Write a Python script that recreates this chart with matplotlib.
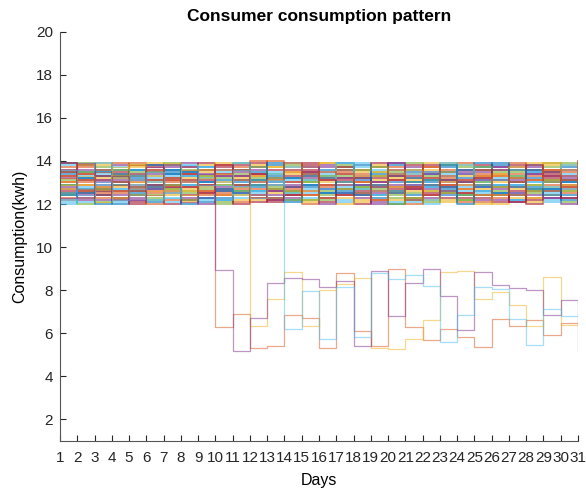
import numpy as np
import matplotlib
matplotlib.use("Agg")
import matplotlib.pyplot as plt

plt.rcParams['font.family'] = ['Liberation Sans', 'DejaVu Sans']

days = list(range(1, 32))

# normal consumers, kwh per day (all between 12 and 14)
normal = [
    [13.9, 13.2, 12.4, 13.6, 12.8, 12.1, 13.5, 12.9, 13.7, 12.3, 13.1, 12.6, 13.8, 12.2, 13.4, 12.7, 13.9, 12.5, 13.3, 12.0, 13.6, 12.8, 13.1, 12.4, 13.7, 12.9, 12.2, 13.5, 12.6, 13.0, 12.8],
    [12.3, 13.7, 13.1, 12.5, 13.9, 12.8, 12.2, 13.4, 12.6, 13.8, 12.1, 13.3, 12.7, 13.5, 12.0, 13.2, 12.4, 13.6, 12.9, 13.1, 12.3, 13.7, 12.5, 13.9, 12.1, 13.4, 12.8, 12.3, 13.6, 12.7, 13.2],
    [13.0, 12.6, 13.8, 12.2, 13.3, 13.9, 12.7, 12.1, 13.5, 12.9, 13.6, 12.4, 13.1, 12.8, 13.7, 12.3, 13.0, 12.1, 13.8, 12.6, 13.4, 12.2, 13.9, 12.7, 13.3, 12.0, 13.6, 12.9, 12.4, 13.8, 12.5],
    [12.7, 12.2, 12.9, 13.8, 12.4, 13.5, 13.1, 13.9, 12.3, 13.4, 12.8, 13.7, 12.2, 13.0, 12.6, 13.8, 12.5, 13.3, 12.1, 13.9, 12.7, 13.2, 12.4, 13.5, 12.8, 13.7, 12.1, 13.4, 13.0, 12.3, 13.6],
    [13.5, 13.9, 12.1, 13.0, 12.6, 12.4, 13.8, 12.6, 13.2, 12.0, 13.9, 12.9, 13.4, 12.5, 13.1, 12.2, 13.7, 12.8, 13.5, 12.3, 13.0, 12.6, 13.8, 12.2, 13.6, 12.4, 13.2, 12.7, 13.9, 12.1, 13.3],
    [12.1, 12.8, 13.5, 12.7, 13.6, 13.2, 12.3, 13.0, 12.8, 13.6, 12.4, 13.0, 12.9, 13.9, 12.3, 13.5, 12.1, 13.7, 12.6, 13.4, 12.9, 12.0, 13.3, 12.8, 13.0, 13.6, 12.5, 13.8, 12.2, 13.4, 12.9],
    [13.3, 12.5, 12.7, 13.3, 12.1, 13.7, 12.9, 12.4, 13.9, 12.6, 13.3, 12.1, 13.6, 12.4, 13.8, 12.9, 13.2, 12.4, 13.0, 12.7, 13.8, 12.5, 12.9, 13.6, 12.3, 13.1, 13.8, 12.0, 13.4, 12.9, 12.6],
    [12.9, 13.5, 13.3, 12.0, 13.2, 12.9, 13.6, 13.3, 12.1, 13.1, 12.6, 13.5, 12.3, 13.2, 12.9, 12.5, 13.6, 12.9, 12.3, 13.8, 12.2, 13.4, 12.7, 13.0, 13.9, 12.5, 12.9, 13.2, 12.7, 13.7, 12.1],
    [13.7, 12.9, 12.3, 13.4, 12.9, 12.6, 12.5, 13.7, 12.9, 12.5, 13.7, 12.7, 14.0, 12.6, 13.3, 13.1, 12.7, 13.4, 13.7, 12.5, 13.2, 12.9, 13.6, 12.1, 13.2, 12.8, 13.4, 12.6, 13.1, 12.5, 13.8],
    [12.5, 13.1, 13.9, 12.9, 13.4, 13.0, 13.2, 12.7, 13.3, 13.9, 12.2, 13.8, 12.5, 13.7, 12.2, 13.9, 12.9, 12.2, 13.1, 13.2, 12.6, 13.9, 12.2, 13.3, 12.7, 13.3, 12.3, 13.9, 12.8, 13.3, 12.4],
    [13.2, 12.4, 13.0, 13.1, 12.3, 13.4, 12.6, 13.1, 12.5, 12.8, 13.5, 12.3, 13.2, 12.9, 13.5, 12.7, 13.4, 13.1, 12.5, 13.0, 13.5, 12.3, 13.0, 12.9, 13.5, 12.2, 13.7, 12.4, 13.3, 12.0, 13.5],
    [12.4, 13.8, 12.6, 12.3, 13.8, 12.2, 13.9, 12.5, 13.6, 13.2, 12.9, 13.1, 12.7, 12.2, 13.0, 12.4, 13.8, 12.7, 13.3, 12.4, 13.9, 13.1, 12.5, 13.7, 12.4, 13.5, 13.0, 12.5, 13.7, 13.1, 12.7],
    [13.8, 12.1, 13.4, 13.7, 12.7, 13.3, 12.1, 13.8, 12.2, 13.5, 12.3, 12.6, 13.4, 13.1, 12.5, 13.3, 12.2, 13.9, 12.8, 13.6, 12.1, 12.8, 13.4, 12.6, 13.1, 12.9, 13.3, 13.0, 12.1, 13.6, 13.0],
    [12.6, 13.4, 12.8, 12.6, 13.1, 13.8, 12.8, 12.2, 13.1, 12.7, 13.8, 13.4, 12.1, 13.6, 13.6, 12.1, 13.1, 12.6, 13.9, 12.8, 13.3, 13.5, 12.8, 12.3, 13.8, 13.1, 12.6, 13.6, 13.2, 12.8, 14.0],
    [13.4, 12.7, 13.6, 13.2, 12.5, 12.7, 13.4, 13.5, 13.0, 12.2, 13.0, 12.8, 13.3, 12.8, 12.8, 13.6, 12.6, 13.2, 12.4, 13.3, 12.4, 13.0, 13.7, 13.2, 12.6, 13.8, 12.4, 12.8, 13.5, 12.2, 13.1],
    [12.2, 13.0, 12.5, 13.9, 13.0, 12.5, 13.0, 12.8, 12.4, 13.6, 12.7, 14.0, 12.9, 12.7, 13.4, 12.8, 13.5, 13.0, 12.2, 13.7, 12.8, 12.4, 13.2, 12.5, 13.4, 12.3, 13.9, 13.3, 12.9, 13.5, 12.3],
    [13.6, 12.3, 13.2, 12.8, 13.7, 13.1, 12.4, 13.2, 13.8, 12.4, 13.2, 12.2, 13.7, 13.4, 12.1, 13.0, 12.3, 13.5, 13.5, 12.2, 13.1, 13.6, 12.1, 13.8, 12.9, 13.0, 12.7, 12.1, 13.8, 12.6, 13.7],
    [12.8, 13.6, 12.2, 12.4, 12.2, 13.6, 13.7, 12.3, 13.4, 13.3, 12.5, 13.6, 12.4, 12.3, 13.2, 13.7, 12.9, 12.3, 13.0, 12.9, 13.7, 12.7, 13.5, 13.1, 12.2, 13.7, 13.1, 13.7, 12.3, 13.2, 12.6],
    [13.1, 12.0, 13.7, 13.3, 13.5, 12.3, 12.7, 13.6, 12.7, 12.1, 13.4, 13.2, 12.8, 13.8, 13.0, 12.6, 13.3, 12.8, 12.7, 13.5, 12.5, 13.3, 12.6, 12.4, 13.0, 12.6, 13.5, 12.9, 13.1, 13.9, 12.4],
    [12.0, 13.3, 12.9, 12.1, 12.9, 13.0, 13.3, 12.9, 13.2, 13.0, 12.8, 12.5, 13.5, 12.5, 12.7, 13.4, 12.8, 13.1, 13.6, 12.1, 13.4, 12.2, 13.9, 13.4, 12.5, 13.2, 12.2, 13.5, 12.5, 12.7, 13.4],
    [13.9, 12.6, 13.3, 13.5, 12.0, 12.9, 12.0, 13.4, 12.9, 13.7, 12.0, 13.9, 12.6, 13.3, 13.9, 12.3, 13.7, 12.0, 13.2, 13.1, 12.7, 13.8, 12.3, 13.0, 13.6, 12.1, 13.0, 12.2, 13.5, 13.1, 12.9],
    [12.5, 13.2, 12.0, 12.9, 13.3, 13.8, 13.6, 12.0, 12.3, 12.6, 13.6, 12.9, 13.0, 12.1, 13.3, 13.2, 12.5, 13.8, 12.9, 12.6, 13.2, 12.9, 12.8, 13.6, 12.8, 13.9, 12.8, 13.6, 12.7, 12.4, 13.7],
    [13.3, 13.8, 13.6, 12.6, 12.8, 12.0, 13.1, 13.1, 13.6, 12.4, 13.1, 13.0, 12.3, 13.0, 12.4, 12.9, 13.6, 12.5, 12.6, 13.4, 12.0, 13.2, 13.3, 12.7, 13.3, 12.4, 13.2, 13.1, 12.6, 13.6, 12.2],
    [12.7, 12.9, 12.8, 13.2, 13.8, 13.3, 12.6, 12.6, 12.8, 13.0, 12.4, 13.3, 13.7, 13.5, 12.6, 13.9, 12.0, 13.3, 13.3, 12.8, 13.6, 12.6, 13.0, 12.9, 12.0, 13.4, 13.7, 12.3, 13.9, 12.9, 13.1],
    [13.6, 12.3, 13.1, 12.2, 13.4, 12.7, 13.8, 13.7, 12.0, 13.3, 13.3, 12.4, 12.6, 12.8, 13.7, 12.0, 13.2, 12.9, 12.0, 13.9, 12.9, 13.4, 12.6, 13.4, 13.1, 12.7, 12.5, 13.4, 12.3, 13.3, 12.0],
    [12.9, 13.5, 12.7, 13.6, 12.4, 13.5, 12.9, 12.2, 13.3, 12.9, 12.6, 13.7, 13.2, 12.6, 12.2, 13.3, 12.7, 13.6, 13.7, 12.0, 12.3, 12.1, 13.5, 12.2, 13.7, 12.8, 13.3, 12.6, 13.0, 12.6, 13.5],
    [12.2, 12.7, 13.9, 12.7, 13.1, 12.2, 12.5, 13.3, 13.7, 12.2, 13.9, 12.6, 12.9, 13.7, 13.1, 12.7, 13.9, 12.7, 12.4, 13.0, 13.5, 13.5, 12.4, 13.8, 12.6, 13.1, 12.9, 13.0, 12.8, 13.8, 12.7],
    [13.5, 13.1, 12.4, 13.0, 12.6, 13.1, 13.2, 12.8, 12.5, 13.8, 12.9, 13.4, 12.2, 12.4, 13.5, 13.1, 12.4, 13.2, 12.8, 13.3, 12.8, 12.4, 13.1, 12.5, 13.2, 13.6, 12.1, 13.8, 13.3, 12.3, 13.2],
    [12.4, 12.5, 13.5, 13.4, 13.6, 12.8, 13.4, 13.5, 13.0, 12.7, 12.5, 13.1, 13.9, 13.2, 12.9, 12.5, 13.0, 12.4, 13.4, 12.5, 13.0, 13.1, 13.8, 12.0, 12.9, 12.5, 13.6, 12.7, 12.4, 13.0, 12.8],
    [13.0, 13.4, 12.6, 12.3, 12.7, 13.6, 12.8, 13.0, 12.6, 13.4, 13.6, 12.3, 13.1, 13.9, 12.4, 13.5, 13.4, 13.0, 12.2, 13.6, 12.2, 13.7, 12.9, 13.1, 12.4, 13.3, 12.4, 13.1, 13.6, 12.8, 13.9],
]

# consumers whose usage drops mid-month
drop_orange = [13.2, 12.7, 13.5, 12.9, 13.8, 12.4, 13.1, 13.6, 12.5, 6.3, 6.9, 5.3, 5.4, 6.85, 6.7, 5.3, 8.8, 6.1, 5.4, 9.0, 6.3, 5.7, 6.2, 5.85, 5.35, 6.65, 6.35, 6.6, 5.9, 6.5, 6.5]
drop_purple = [12.3, 13.9, 12.6, 13.3, 12.2, 13.7, 12.8, 12.1, 13.4, 8.95, 5.2, 6.7, 8.35, 8.55, 8.5, 8.15, 8.45, 5.4, 8.9, 6.8, 8.35, 9.0, 7.75, 6.15, 8.85, 8.25, 8.1, 8.0, 6.85, 7.55, 5.2]
drop_yellow = [12.9, 13.3, 12.1, 13.7, 13.0, 12.6, 13.9, 12.4, 13.2, 13.4, 12.8, 6.35, 7.6, 8.85, 6.35, 8.0, 8.3, 8.55, 5.3, 5.25, 5.75, 6.6, 8.85, 8.9, 7.6, 7.9, 7.3, 6.35, 8.6, 6.4, 6.4]
drop_cyan = [13.6, 12.4, 13.0, 12.2, 12.7, 13.5, 12.3, 13.8, 12.9, 12.9, 13.6, 12.3, 13.1, 6.2, 7.95, 5.75, 8.15, 5.85, 8.8, 8.5, 8.7, 8.2, 5.6, 6.85, 8.15, 8.05, 6.65, 5.45, 7.15, 6.8, 6.8]

for row in normal + [drop_orange, drop_purple, drop_yellow, drop_cyan]:
    assert len(row) == 31

# matlab default line colours
mcolors = ['#0072BD', '#D95319', '#EDB120', '#7E2F8E', '#77AC30', '#4DBEEE', '#A2142F']

fig = plt.figure(figsize=(5.86, 4.9), dpi=100)
ax = fig.add_axes([0.1024, 0.1, 0.8840, 0.8353])

for i, row in enumerate(normal):
    ax.step(days, row, where='post', color=mcolors[i % 7], lw=1.2, alpha=0.7)

ax.step(days, drop_orange, where='post', color=mcolors[1], lw=0.9, alpha=0.5)
ax.step(days, drop_yellow, where='post', color=mcolors[2], lw=0.9, alpha=0.5)
ax.step(days, drop_purple, where='post', color=mcolors[3], lw=0.9, alpha=0.5)
ax.step(days, drop_cyan, where='post', color=mcolors[5], lw=0.9, alpha=0.5)

ax.set_xlim(1, 31)
ax.set_ylim(1, 20)
ax.set_xticks(days)
ax.set_yticks(range(2, 21, 2))
ax.tick_params(direction='in', length=4, labelsize=11, colors='#262626', pad=5)
ax.tick_params(axis='x', pad=7)
ax.spines['top'].set_visible(False)
ax.spines['right'].set_visible(False)
ax.spines['left'].set_color('#555555')
ax.spines['bottom'].set_color('#555555')

ax.set_title("Consumer consumption pattern", fontsize=12.5, fontweight='bold', pad=8)
ax.set_xlabel("Days", fontsize=11.5, labelpad=6)
ax.set_ylabel("Consumption(kwh)", fontsize=11.5, labelpad=6)

fig.savefig("out.png", dpi=100)
